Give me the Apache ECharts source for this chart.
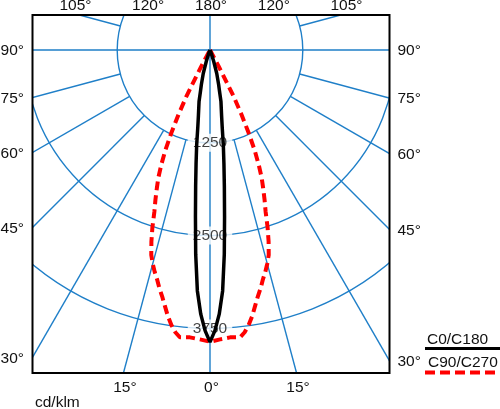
<!DOCTYPE html>
<html><head><meta charset="utf-8">
<script src="https://cdn.jsdelivr.net/npm/echarts@6/dist/echarts.min.js"></script>
<style>html,body{margin:0;padding:0;background:#fff}#c{width:500px;height:409px}</style>
</head><body><div id="c"></div>
<script>
// ---- data ----
const ringValues = [1250, 2500, 3750];
const radialAngles = [15, 30, 45, 60, 75, 105, 120, 135, 150, 165];
const degreeLabels = [0, 15, 30, 45, 60, 75, 90, 105, 120, 180];
const blackAngles = [0, 1, 2, 3, 4, 5, 6, 7, 8, 9, 10, 12, 13, 14, 16, 18, 20, 22, 25];
const blackValues = [3935, 3780, 3560, 3250, 2760, 2250, 1850, 1540, 1290, 1050, 900, 710, 570, 480, 330, 160, 60, 10, 0];
const redAngles = [0, 2, 4, 5, 6, 7, 8, 9, 10, 11, 12, 13, 14, 15, 16, 17, 18, 19, 20, 21, 22, 23, 24, 25, 26, 27, 28, 29];
const redValues = [3930, 3900, 3880, 3885, 3890, 3830, 3740, 3630, 3500, 3380, 3280, 3170, 3080, 2980, 2870, 2700, 2510, 2300, 2150, 2000, 1860, 1680, 1480, 1230, 970, 700, 250, 0];
const legendNames = ['C0/C180', 'C90/C270'];
const unitLabel = 'cd/klm';

// ---- layout ----
const CX = 210, CY = 50;
const BOX = { l: 32.5, t: 15, r: 389.5, b: 373 };
const R_MAX = 5000, R_PX = 371.2;
const BLUE = '#1f7fc8';
const FONT = 'Liberation Sans, Arial, sans-serif';
const FS = 15.5;

function curve(angles, values) {
  const pts = [];
  for (let i = angles.length - 1; i >= 0; i--) pts.push([values[i], 360 - angles[i]]);
  for (let i = 0; i < angles.length; i++) pts.push([values[i], angles[i]]);
  return pts;
}

function hitBox(theta, sign, topY) {
  const t = theta * Math.PI / 180;
  const dx = sign * Math.sin(t), dy = Math.cos(t);
  let best = Infinity, edge = null;
  if (dx < -1e-9) { const s = (BOX.l - CX) / dx; if (s < best) { best = s; edge = 'l'; } }
  if (dx > 1e-9) { const s = (BOX.r - CX) / dx; if (s < best) { best = s; edge = 'r'; } }
  if (dy > 1e-9) { const s = (BOX.b - CY) / dy; if (s < best) { best = s; edge = 'b'; } }
  if (dy < -1e-9) { const s = (topY - CY) / dy; if (s < best) { best = s; edge = 't'; } }
  return { x: CX + best * dx, y: CY + best * dy, edge };
}

const series = [];
radialAngles.forEach(a => {
  [a, 360 - a].forEach(v => {
    series.push({
      type: 'line', coordinateSystem: 'polar', silent: true, symbol: 'none', z: 1,
      lineStyle: { color: BLUE, width: 1.4 }, animation: false,
      data: [[ringValues[0], v], [R_MAX, v]]
    });
  });
});
series.push({
  type: 'scatter', coordinateSystem: 'polar', silent: true, z: 2,
  symbolSize: 0.1, itemStyle: { color: 'rgba(0,0,0,0)' },
  data: ringValues.map(v => [v, 0]),
  label: {
    show: true, position: 'inside', formatter: p => String(p.value[0]),
    color: '#111', fontSize: FS, fontFamily: FONT, backgroundColor: '#fff', padding: [1, 5]
  }
});
series.push({
  name: legendNames[1], type: 'line', coordinateSystem: 'polar', symbol: 'none', z: 3,
  data: curve(redAngles, redValues),
  lineStyle: { color: '#ff0000', width: 4, type: [9, 5] }
});
series.push({
  name: legendNames[0], type: 'line', coordinateSystem: 'polar', symbol: 'none', z: 4,
  data: curve(blackAngles, blackValues),
  lineStyle: { color: '#000', width: 3.5 }
});

const textStyle = (txt, align) => ({
  text: txt, font: FS + 'px ' + FONT, fill: '#111',
  align: align, textAlign: align, verticalAlign: 'middle', textVerticalAlign: 'middle'
});

const graphics = [
  { type: 'rect', z: 100, silent: true, shape: { x: 0, y: 0, width: 500, height: BOX.t }, style: { fill: '#fff' } },
  { type: 'rect', z: 100, silent: true, shape: { x: 0, y: 0, width: BOX.l, height: 409 }, style: { fill: '#fff' } },
  { type: 'rect', z: 100, silent: true, shape: { x: BOX.r, y: 0, width: 500 - BOX.r, height: 409 }, style: { fill: '#fff' } },
  { type: 'rect', z: 100, silent: true, shape: { x: 0, y: BOX.b, width: 500, height: 409 - BOX.b }, style: { fill: '#fff' } },
  { type: 'rect', z: 101, silent: true, shape: { x: BOX.l, y: BOX.t, width: BOX.r - BOX.l, height: BOX.b - BOX.t }, style: { fill: null, stroke: '#000', lineWidth: 2 } }
];

degreeLabels.forEach(a => {
  const sides = (a === 0 || a === 180) ? [1] : [-1, 1];
  sides.forEach(s => {
    const h = hitBox(a, s, 13.7);
    let x, y, align;
    if (h.edge === 'l') { x = BOX.l - 8.5; y = h.y + 1; align = 'right'; }
    else if (h.edge === 'r') { x = BOX.r + 8; y = h.y + 1; align = 'left'; }
    else if (h.edge === 'b') { x = h.x + 1.5; y = BOX.b + 14.5; align = 'center'; }
    else { x = h.x + 1; y = 6; align = 'center'; }
    graphics.push({ type: 'text', z: 102, silent: true, x: x, y: y, style: textStyle(a + '°', align) });
  });
});

graphics.push({ type: 'text', z: 102, silent: true, x: 35, y: 403, style: textStyle(unitLabel, 'left') });
graphics.push({ type: 'text', z: 102, silent: true, x: 427, y: 340, style: textStyle(legendNames[0], 'left') });
graphics.push({ type: 'line', z: 102, silent: true, shape: { x1: 425, y1: 348.5, x2: 500, y2: 348.5 }, style: { stroke: '#000', lineWidth: 3 } });
graphics.push({ type: 'text', z: 102, silent: true, x: 428, y: 363, style: textStyle(legendNames[1], 'left') });
graphics.push({ type: 'line', z: 102, silent: true, shape: { x1: 425, y1: 372.5, x2: 500, y2: 372.5 }, style: { stroke: '#ff0000', lineWidth: 4, lineDash: [10, 5] } });

const chart = echarts.init(document.getElementById('c'), null, { renderer: 'canvas' });
chart.setOption({
  animation: false,
  backgroundColor: '#fff',
  polar: { center: [CX, CY], radius: R_PX },
  angleAxis: {
    type: 'value', min: 0, max: 360, interval: 90, startAngle: 270, clockwise: true,
    axisLine: { show: false }, axisTick: { show: false }, axisLabel: { show: false },
    splitLine: { show: true, lineStyle: { color: BLUE, width: 1.4 } }
  },
  radiusAxis: {
    type: 'value', min: 0, max: R_MAX, interval: ringValues[0],
    axisLine: { show: false }, axisTick: { show: false }, axisLabel: { show: false },
    splitLine: { show: true, lineStyle: { color: BLUE, width: 1.4 } }
  },
  series: series,
  graphic: { elements: graphics }
});
</script></body></html>
